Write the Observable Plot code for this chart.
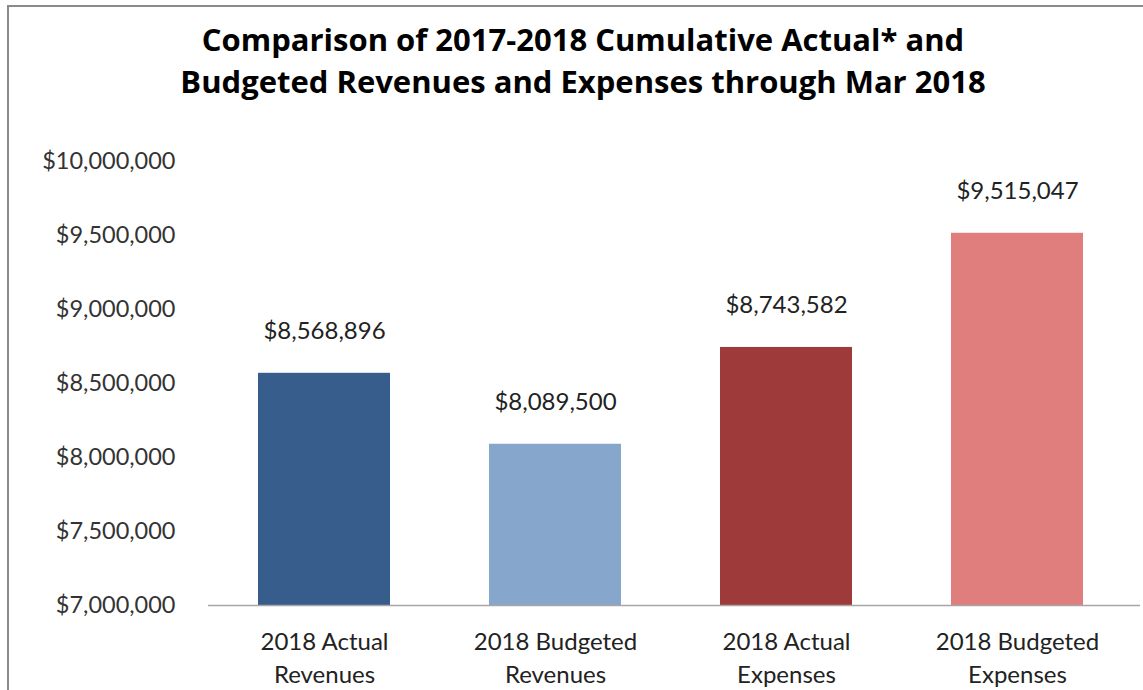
<!DOCTYPE html>
<html>
<head>
<meta charset="utf-8">
<script src="https://cdn.jsdelivr.net/npm/d3@7"></script>
<script src="https://cdn.jsdelivr.net/npm/@observablehq/plot@0.6"></script>
<style>
  html, body { margin: 0; padding: 0; background: #fff; }
  #frame {
    position: absolute; left: 7px; top: 5px; width: 1150px; height: 700px;
    border: 2px solid #8a8a8a; box-sizing: border-box;
  }
  #title {
    position: absolute; left: 0; top: 18px; width: 1166px; text-align: center;
    font-family: "Open Sans", Lato, sans-serif; font-weight: 700; font-size: 31px;
    line-height: 42px; color: #000;
  }
  #chart { position: absolute; left: 0; top: 120px; }
</style>
</head>
<body>
<div id="frame"></div>
<div id="title">Comparison of 2017-2018 Cumulative Actual* and<br>Budgeted Revenues and Expenses through Mar 2018</div>
<div id="chart"></div>
<script>
const categories = ["2018 Actual\nRevenues", "2018 Budgeted\nRevenues", "2018 Actual\nExpenses", "2018 Budgeted\nExpenses"];
const values = [8568896, 8089500, 8743582, 9515047];
const colors = ["#375D8C", "#86A6CC", "#9E3B3A", "#E07E7E"];
const yTicks = [7000000, 7500000, 8000000, 8500000, 9000000, 9500000, 10000000];

const data = categories.map((c, i) => ({category: c, value: values[i], color: colors[i]}));
const fmt = d3.format("$,");
const font = "Lato, 'Open Sans', sans-serif";

const plot = Plot.plot({
  width: 1143,
  height: 570,
  marginTop: 41,
  marginBottom: 85,
  marginLeft: 208,
  marginRight: 3,
  style: { fontFamily: font, background: "transparent", color: "#333" },
  x: { domain: categories, paddingInner: 0.428, paddingOuter: 0.214, insetRight: 7.5 },
  y: { domain: [7000000, 10000000] },
  marks: [
    Plot.axisY({ ticks: yTicks, tickFormat: fmt, tickSize: 0, tickPadding: 33, fontSize: 23.5, fill: "#333", label: null }),
    Plot.axisX({ tickSize: 0, tickPadding: 21, fontSize: 24, lineHeight: 1.38, fill: "#222", label: null }),
    Plot.barY(data, { x: "category", y1: 7000000, y2: "value", fill: "color" }),
    Plot.ruleY([7000000], { stroke: "#a6a6a6", strokeWidth: 1.5 }),
    Plot.text(data, { x: "category", y: "value", text: d => fmt(d.value), dy: -42, fontSize: 24, fill: "#222" })
  ]
});
document.getElementById("chart").appendChild(plot);
</script>
</body>
</html>
